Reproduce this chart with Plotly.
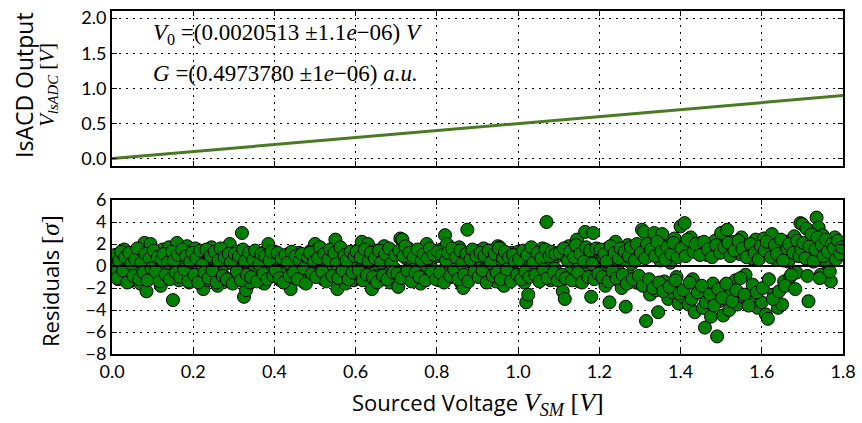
import plotly.graph_objects as go
from plotly.subplots import make_subplots

# ---- data ----
# top panel: IsADC output vs sourced voltage
vsm_top = [0.0, 0.2, 0.4, 0.6, 0.8, 1.0, 1.2, 1.4, 1.6, 1.8]
visadc = [0.002, 0.102, 0.201, 0.301, 0.400, 0.499, 0.599, 0.698, 0.798, 0.897]

# residuals panel, first sweep
res_x = [
    0.000, 0.005, 0.010, 0.015, 0.020, 0.025, 0.030, 0.035, 0.040, 0.045, 0.050, 0.055, 0.060, 0.065, 0.070, 0.075, 0.080, 0.085, 0.090, 0.095,
    0.100, 0.105, 0.110, 0.115, 0.120, 0.125, 0.130, 0.135, 0.140, 0.145, 0.150, 0.155, 0.160, 0.165, 0.170, 0.175, 0.180, 0.185, 0.190, 0.195,
    0.200, 0.205, 0.210, 0.215, 0.220, 0.225, 0.230, 0.235, 0.240, 0.245, 0.250, 0.255, 0.260, 0.265, 0.270, 0.275, 0.280, 0.285, 0.290, 0.295,
    0.300, 0.305, 0.310, 0.315, 0.320, 0.325, 0.330, 0.335, 0.340, 0.345, 0.350, 0.355, 0.360, 0.365, 0.370, 0.375, 0.380, 0.385, 0.390, 0.395,
    0.400, 0.405, 0.410, 0.415, 0.420, 0.425, 0.430, 0.435, 0.440, 0.445, 0.450, 0.455, 0.460, 0.465, 0.470, 0.475, 0.480, 0.485, 0.490, 0.495,
    0.500, 0.505, 0.510, 0.515, 0.520, 0.525, 0.530, 0.535, 0.540, 0.545, 0.550, 0.555, 0.560, 0.565, 0.570, 0.575, 0.580, 0.585, 0.590, 0.595,
    0.600, 0.605, 0.610, 0.615, 0.620, 0.625, 0.630, 0.635, 0.640, 0.645, 0.650, 0.655, 0.660, 0.665, 0.670, 0.675, 0.680, 0.685, 0.690, 0.695,
    0.700, 0.705, 0.710, 0.715, 0.720, 0.725, 0.730, 0.735, 0.740, 0.745, 0.750, 0.755, 0.760, 0.765, 0.770, 0.775, 0.780, 0.785, 0.790, 0.795,
    0.800, 0.805, 0.810, 0.815, 0.820, 0.825, 0.830, 0.835, 0.840, 0.845, 0.850, 0.855, 0.860, 0.865, 0.870, 0.875, 0.880, 0.885, 0.890, 0.895,
    0.900, 0.905, 0.910, 0.915, 0.920, 0.925, 0.930, 0.935, 0.940, 0.945, 0.950, 0.955, 0.960, 0.965, 0.970, 0.975, 0.980, 0.985, 0.990, 0.995,
    1.000, 1.005, 1.010, 1.015, 1.020, 1.025, 1.030, 1.035, 1.040, 1.045, 1.050, 1.055, 1.060, 1.065, 1.070, 1.075, 1.080, 1.085, 1.090, 1.095,
    1.100, 1.105, 1.110, 1.115, 1.120, 1.125, 1.130, 1.135, 1.140, 1.145, 1.150, 1.155, 1.160, 1.165, 1.170, 1.175, 1.180, 1.185, 1.190, 1.195,
    1.200, 1.205, 1.210, 1.215, 1.220, 1.225, 1.230, 1.235, 1.240, 1.245, 1.250, 1.255, 1.260, 1.265, 1.270, 1.275, 1.280, 1.285, 1.290, 1.295,
    1.300, 1.305, 1.310, 1.315, 1.320, 1.325, 1.330, 1.335, 1.340, 1.345, 1.350, 1.355, 1.360, 1.365, 1.370, 1.375, 1.380, 1.385, 1.390, 1.395,
    1.400, 1.405, 1.410, 1.415, 1.420, 1.425, 1.430, 1.435, 1.440, 1.445, 1.450, 1.455, 1.460, 1.465, 1.470, 1.475, 1.480, 1.485, 1.490, 1.495,
    1.500, 1.505, 1.510, 1.515, 1.520, 1.525, 1.530, 1.535, 1.540, 1.545, 1.550, 1.555, 1.560, 1.565, 1.570, 1.575, 1.580, 1.585, 1.590, 1.595,
    1.600, 1.605, 1.610, 1.615, 1.620, 1.625, 1.630, 1.635, 1.640, 1.645, 1.650, 1.655, 1.660, 1.665, 1.670, 1.675, 1.680, 1.685, 1.690, 1.695,
    1.700, 1.705, 1.710, 1.715, 1.720, 1.725, 1.730, 1.735, 1.740, 1.745, 1.750, 1.755, 1.760, 1.765, 1.770, 1.775, 1.780, 1.785, 1.790, 1.795,
    1.800,
]
res_sigma = [
    0.4, -0.6, 0.9, -1.2, 0.2, 1.1, 1.5, -0.8, 0.6, -1.4, 0.3, 1.3, -0.5, 0.8, -1.6, 0.9, 2.1, -2.3, 0.5, 2.0,
    -0.7, 1.2, -1.1, 0.4, -1.8, 1.5, 0.1, -0.9, 1.7, -0.3, -3.1, 0.9, 2.1, -1.3, 0.6, 1.0, -0.4, 1.8, -1.5, 0.7,
    0.3, 1.6, -1.0, 0.8, -0.5, -2.1, 1.2, -1.3, 0.5, 1.7, -0.2, 1.1, -1.8, 0.6, 1.4, -0.9, 0.2, -1.4, 2.0, 0.9,
    -1.2, 1.3, 0.4, -0.7, 3.0, -2.8, -2.2, 1.0, -1.5, 0.6, -0.4, 1.2, 0.2, -1.1, 0.8, -1.6, 1.4, 2.0, -0.6, 0.5,
    1.3, -0.8, 0.5, -1.3, 0.9, 0.1, -0.5, 1.1, -2.1, 0.7, -1.0, 0.4, 1.2, -0.3, -1.4, 0.8, 0.2, -0.9, 1.4, 0.6,
    2.0, 1.5, -0.6, 0.9, -1.2, 1.3, 0.3, -0.8, 1.0, -0.2, 2.4, -2.1, 0.7, -1.0, 0.4, -1.6, 1.2, -0.4, 0.8, -1.3,
    0.6, -1.1, 1.6, 2.2, 0.3, -0.7, 2.0, 1.1, -2.1, -0.4, 1.4, 0.2, -1.3, 0.9, 1.8, -0.6, 0.5, -1.5, 1.0, -0.2,
    1.2, -1.9, 2.5, 2.4, -0.5, 0.7, 1.6, -1.2, 0.3, 1.1, -0.8, 0.6, -1.6, 1.4, 0.1, 2.0, -1.0, 0.9, -0.3, 1.3,
    0.9, -1.3, 1.5, -0.4, 2.8, 2.0, 0.6, -1.0, 1.2, -0.6, 0.3, 1.7, -1.6, -2.0, 1.0, 3.3, 0.4, -0.9, 1.3, -0.2,
    1.1, -0.7, 0.5, 1.6, -1.2, 0.2, 1.4, -0.5, 0.8, -1.4, 1.8, 1.7, -0.3, -1.8, 0.9, 0.4, -1.0, 1.2, -0.6, 0.7,
    1.3, -0.8, 0.6, -1.5, -3.3, -2.6, 1.0, -0.4, 1.4, 0.2, -1.1, 0.8, 1.6, -0.6, 4.0, 0.5, -1.3, 1.1, -0.2, 0.9,
    -0.9, 1.3, -2.3, -3.0, 0.7, 1.8, -0.5, 1.1, 0.3, 2.4, -1.4, 0.9, 1.5, 3.1, -0.7, 0.5, -2.8, 3.0, 1.0, -0.3,
    1.2, -0.6, 0.8, -1.8, 1.6, -3.3, 0.4, -1.2, 2.2, -0.3, 1.0, -2.0, 0.6, -3.7, 1.9, -0.9, 0.2, 1.3, -1.5, 0.7,
    -1.6, 3.3, 3.1, -5.0, 0.9, -2.6, 1.4, 3.0, -2.2, -4.2, 0.5, 2.9, -1.4, 1.8, -3.0, 0.3, -2.4, 2.5, -1.0, -3.4,
    3.6, -2.8, 3.9, 1.8, -3.5, 2.6, -1.2, -4.2, 1.4, -2.0, 2.1, -3.8, -5.6, 1.0, -2.9, -4.6, -1.6, 2.3, -6.4, -3.2,
    3.0, -4.5, 1.6, 3.3, -4.0, -2.4, 2.2, -1.3, -3.5, 1.1, 2.6, -2.8, -0.8, 1.9, -3.0, 0.7, -1.9, 2.4, -3.8, 1.4,
    -3.3, 2.5, -4.4, -4.8, 1.3, 2.9, -2.6, 0.6, -3.8, 1.7, -3.5, -1.4, 2.2, 0.4, -1.0, 1.5, 2.7, -0.6, 0.9, 3.9,
    3.8, 1.2, 3.4, -3.2, 0.6, 2.3, 1.6, 4.4, 3.5, -0.8, 2.8, 1.0, 0.3, 2.2, -1.4, 1.8, 2.6, 0.8, 1.4, 2.0,
    1.2,
]

# residuals panel, interleaved second sweep
res_x_b = [
    0.0025, 0.0075, 0.0125, 0.0175, 0.0225, 0.0275, 0.0325, 0.0375, 0.0425, 0.0475, 0.0525, 0.0575, 0.0625, 0.0675, 0.0725, 0.0775, 0.0825, 0.0875, 0.0925, 0.0975,
    0.1025, 0.1075, 0.1125, 0.1175, 0.1225, 0.1275, 0.1325, 0.1375, 0.1425, 0.1475, 0.1525, 0.1575, 0.1625, 0.1675, 0.1725, 0.1775, 0.1825, 0.1875, 0.1925, 0.1975,
    0.2025, 0.2075, 0.2125, 0.2175, 0.2225, 0.2275, 0.2325, 0.2375, 0.2425, 0.2475, 0.2525, 0.2575, 0.2625, 0.2675, 0.2725, 0.2775, 0.2825, 0.2875, 0.2925, 0.2975,
    0.3025, 0.3075, 0.3125, 0.3175, 0.3225, 0.3275, 0.3325, 0.3375, 0.3425, 0.3475, 0.3525, 0.3575, 0.3625, 0.3675, 0.3725, 0.3775, 0.3825, 0.3875, 0.3925, 0.3975,
    0.4025, 0.4075, 0.4125, 0.4175, 0.4225, 0.4275, 0.4325, 0.4375, 0.4425, 0.4475, 0.4525, 0.4575, 0.4625, 0.4675, 0.4725, 0.4775, 0.4825, 0.4875, 0.4925, 0.4975,
    0.5025, 0.5075, 0.5125, 0.5175, 0.5225, 0.5275, 0.5325, 0.5375, 0.5425, 0.5475, 0.5525, 0.5575, 0.5625, 0.5675, 0.5725, 0.5775, 0.5825, 0.5875, 0.5925, 0.5975,
    0.6025, 0.6075, 0.6125, 0.6175, 0.6225, 0.6275, 0.6325, 0.6375, 0.6425, 0.6475, 0.6525, 0.6575, 0.6625, 0.6675, 0.6725, 0.6775, 0.6825, 0.6875, 0.6925, 0.6975,
    0.7025, 0.7075, 0.7125, 0.7175, 0.7225, 0.7275, 0.7325, 0.7375, 0.7425, 0.7475, 0.7525, 0.7575, 0.7625, 0.7675, 0.7725, 0.7775, 0.7825, 0.7875, 0.7925, 0.7975,
    0.8025, 0.8075, 0.8125, 0.8175, 0.8225, 0.8275, 0.8325, 0.8375, 0.8425, 0.8475, 0.8525, 0.8575, 0.8625, 0.8675, 0.8725, 0.8775, 0.8825, 0.8875, 0.8925, 0.8975,
    0.9025, 0.9075, 0.9125, 0.9175, 0.9225, 0.9275, 0.9325, 0.9375, 0.9425, 0.9475, 0.9525, 0.9575, 0.9625, 0.9675, 0.9725, 0.9775, 0.9825, 0.9875, 0.9925, 0.9975,
    1.0025, 1.0075, 1.0125, 1.0175, 1.0225, 1.0275, 1.0325, 1.0375, 1.0425, 1.0475, 1.0525, 1.0575, 1.0625, 1.0675, 1.0725, 1.0775, 1.0825, 1.0875, 1.0925, 1.0975,
    1.1025, 1.1075, 1.1125, 1.1175, 1.1225, 1.1275, 1.1325, 1.1375, 1.1425, 1.1475, 1.1525, 1.1575, 1.1625, 1.1675, 1.1725, 1.1775, 1.1825, 1.1875, 1.1925, 1.1975,
    1.2025, 1.2075, 1.2125, 1.2175, 1.2225, 1.2275, 1.2325, 1.2375, 1.2425, 1.2475, 1.2525, 1.2575, 1.2625, 1.2675, 1.2725, 1.2775, 1.2825, 1.2875, 1.2925, 1.2975,
    1.3025, 1.3075, 1.3125, 1.3175, 1.3225, 1.3275, 1.3325, 1.3375, 1.3425, 1.3475, 1.3525, 1.3575, 1.3625, 1.3675, 1.3725, 1.3775, 1.3825, 1.3875, 1.3925, 1.3975,
    1.4025, 1.4075, 1.4125, 1.4175, 1.4225, 1.4275, 1.4325, 1.4375, 1.4425, 1.4475, 1.4525, 1.4575, 1.4625, 1.4675, 1.4725, 1.4775, 1.4825, 1.4875, 1.4925, 1.4975,
    1.5025, 1.5075, 1.5125, 1.5175, 1.5225, 1.5275, 1.5325, 1.5375, 1.5425, 1.5475, 1.5525, 1.5575, 1.5625, 1.5675, 1.5725, 1.5775, 1.5825, 1.5875, 1.5925, 1.5975,
    1.6025, 1.6075, 1.6125, 1.6175, 1.6225, 1.6275, 1.6325, 1.6375, 1.6425, 1.6475, 1.6525, 1.6575, 1.6625, 1.6675, 1.6725, 1.6775, 1.6825, 1.6875, 1.6925, 1.6975,
    1.7025, 1.7075, 1.7125, 1.7175, 1.7225, 1.7275, 1.7325, 1.7375, 1.7425, 1.7475, 1.7525, 1.7575, 1.7625, 1.7675, 1.7725, 1.7775, 1.7825, 1.7875, 1.7925, 1.7975,
]
res_sigma_b = [
    -0.3, 1.0, -1.1, 0.5, 1.3, -0.4, 0.8, -1.5, 1.2, 0.2, -0.9, 0.6, 1.6, -1.2, 0.3, -0.6, 1.1, -1.3, 0.7, -0.2,
    1.4, -0.5, 0.8, -1.4, 0.6, 1.1, -0.8, 0.3, -1.2, 1.3, 0.5, -0.6, 1.0, -1.0, 1.5, -0.3, 0.9, -1.4, 0.4, 1.2,
    -0.8, 0.7, -1.5, 1.4, 0.1, -0.6, 1.5, -1.1, 0.9, -0.4, 1.3, -1.5, 0.5, 1.6, -0.9, 0.8, -1.2, 1.1, 0.3, -1.6,
    1.1, -0.5, 0.9, -1.3, 1.5, 0.4, -0.8, 1.2, -1.0, 0.6, 1.4, -1.4, 0.2, 1.1, -0.7, 0.9, -1.2, 0.5, 1.3, -0.9,
    -0.4, 1.2, -1.1, 0.7, -1.5, 1.0, 0.3, -0.9, 1.3, -0.6, 0.9, -1.2, 0.5, 1.1, -0.2, -1.6, 0.8, 1.2, -0.7, 0.4,
    -1.0, 0.7, 1.7, -0.5, 1.1, -1.4, 0.6, 1.5, -0.9, 1.2, 0.2, -1.1, 1.7, -0.4, 1.0, 0.5, -1.2, 1.3, -0.6, 0.9,
    1.3, -0.4, 0.8, -1.3, 1.5, -0.8, 0.4, 1.2, -1.0, 0.7, -1.5, 1.4, 0.3, -0.9, 1.1, -1.2, 1.6, 0.2, -0.6, 1.0,
    -0.7, 1.4, -1.1, 0.9, 1.8, -0.4, 1.2, -1.4, 0.8, -0.6, 1.5, -1.0, 0.5, 1.1, -1.3, 0.7, 1.6, -0.5, 1.0, -1.2,
    1.3, -0.6, 1.0, -1.5, 0.5, 1.2, -0.9, 1.6, -0.3, 0.8, -1.2, 1.4, 0.2, -0.8, 1.1, -1.4, 0.6, 1.5, -0.5, 0.9,
    -1.0, 1.2, -0.4, 0.9, -1.5, 1.4, 0.3, -0.9, 1.1, -0.6, 1.6, -1.2, 0.7, 1.3, -0.3, 0.8, -1.4, 1.0, 0.4, -0.8,
    0.6, -1.2, 1.4, -0.5, 1.0, -1.0, 1.7, 0.3, -0.8, 1.2, -1.4, 0.7, -0.3, 1.5, -1.1, 0.9, 1.3, -0.6, 1.1, -1.3,
    1.2, -0.8, 1.6, -1.1, 0.5, 1.3, -1.3, 0.8, 1.9, -0.6, 1.1, -1.5, 0.4, 1.7, -1.0, 1.4, 0.2, -1.2, 1.6, -0.7,
    1.5, -1.0, 1.1, 0.4, -1.4, 1.8, -0.5, 1.2, -1.1, 0.7, 1.6, -0.8, 1.3, -1.6, 0.9, 1.7, -1.2, 0.5, 2.0, -0.9,
    1.2, -1.8, 0.7, 2.0, -1.2, 1.5, -2.0, 0.9, 2.2, -1.5, 1.3, -2.3, 0.6, 1.7, -1.9, 1.1, 2.1, -1.3, 0.8, -2.5,
    1.6, -2.2, 0.9, 2.4, -1.5, -3.0, 1.3, 2.0, -2.4, 1.0, -1.8, 2.2, -3.3, 1.5, -2.6, 0.8, -3.6, 1.9, -2.1, 1.2,
    -2.9, 1.7, -1.6, 2.1, 0.9, -3.2, 1.4, -2.2, 2.3, -1.1, 1.6, -2.6, 0.8, -3.6, 2.0, -1.7, 1.2, -2.4, 0.6, 1.8,
    -2.0, 1.4, 2.2, -1.2, 0.8, -3.0, 1.9, 1.1, -2.3, 2.4, 0.5, -1.8, 1.6, 2.0, -0.8, 1.2, -2.1, 2.3, 0.9, 1.5,
    2.1, 0.7, -0.9, 1.8, 2.9, 0.4, 1.5, 2.6, -1.1, 1.9, 0.9, 2.4, 1.3, -0.5, 2.0, 1.6, 0.6, 2.3, 1.1, 1.7,
]

fit_x = [0.0, 1.8]
fit_res = [0.0, 0.0]

x_ticks = [0.0, 0.2, 0.4, 0.6, 0.8, 1.0, 1.2, 1.4, 1.6, 1.8]
top_yticks = [0.0, 0.5, 1.0, 1.5, 2.0]
res_yticks = [-8, -6, -4, -2, 0, 2, 4, 6]

# ---- figure ----
W, H = 862, 423
ML, MR, MT, MB = 112, 19, 11, 69
PW = W - ML - MR
PH = H - MT - MB

fig = make_subplots(rows=2, cols=1, shared_xaxes=False)

marker_style = dict(size=13, color="#008000", line=dict(color="black", width=1))

fig.add_trace(go.Scatter(x=vsm_top, y=visadc, mode="lines",
                         line=dict(color="#4a7a22", width=3), showlegend=False),
              row=1, col=1)
fig.add_trace(go.Scatter(x=res_x, y=res_sigma, mode="markers",
                         marker=marker_style, showlegend=False),
              row=2, col=1)
fig.add_trace(go.Scatter(x=res_x_b, y=res_sigma_b, mode="markers",
                         marker=marker_style, showlegend=False),
              row=2, col=1)
fig.add_trace(go.Scatter(x=fit_x, y=fit_res, mode="lines",
                         line=dict(color="black", width=2), showlegend=False),
              row=2, col=1)

sans = "Lato, 'Open Sans', sans-serif"
title_sans = "'Open Sans', Lato, sans-serif"
serif = "'Liberation Serif', 'DejaVu Serif', serif"

tick_font = dict(family=sans, size=18, color="black")
axis_common = dict(showline=True, linewidth=2, linecolor="black", mirror="allticks",
                   ticks="inside", ticklen=5, tickwidth=1, tickcolor="black",
                   showgrid=True, gridcolor="black", gridwidth=1, griddash="2px,5px",
                   zeroline=False, tickfont=tick_font, automargin=False)


def px_x(px):
    return (px - ML) / PW


def px_y(py):
    return (H - MB - py) / PH


fig.update_layout(
    width=W, height=H, margin=dict(l=ML, r=MR, t=MT, b=MB, autoexpand=False),
    paper_bgcolor="white", plot_bgcolor="white",
    xaxis=dict(domain=[0, 1], range=[0, 1.8], tickvals=x_ticks,
               showticklabels=False, **axis_common),
    yaxis=dict(domain=[px_y(165.7), 1.0], range=[-0.1, 2.1],
               tickvals=top_yticks, tickformat=".1f", **axis_common),
    xaxis2=dict(domain=[0, 1], range=[0, 1.8], tickvals=x_ticks,
                tickformat=".1f", **axis_common),
    yaxis2=dict(domain=[0, px_y(200)], range=[-8, 6],
                tickvals=res_yticks, **axis_common),
)

annots = [
    dict(x=px_x(24), y=px_y(85), text="IsACD Output", textangle=-90,
         font=dict(family=title_sans, size=23, color="black")),
    dict(x=px_x(48), y=px_y(85),
         text="<i>V</i><sub><i>lsADC</i></sub> [<i>V</i>]", textangle=-90,
         font=dict(family=serif, size=21, color="black")),
    dict(x=px_x(50), y=px_y(281),
         text="Residuals <span style='font-family:Liberation Serif;font-size:25px'>[<i>σ</i>]</span>",
         textangle=-90, font=dict(family=title_sans, size=22, color="black")),
    dict(x=0.5, y=px_y(403),
         text="Sourced Voltage <span style='font-family:Liberation Serif;font-size:26px'><i>V</i><sub><i>SM</i></sub> [<i>V</i>]</span>",
         font=dict(family=title_sans, size=22, color="black")),
    dict(x=px_x(151), y=px_y(34), xanchor="left",
         text="<i>V</i><sub>0</sub> =(0.0020513 ±1.1<i>e</i>−06) <i>V</i>",
         font=dict(family=serif, size=23, color="black")),
    dict(x=px_x(151), y=px_y(73), xanchor="left",
         text="<i>G</i> =(0.4973780 ±1<i>e</i>−06) <i>a.u.</i>",
         font=dict(family=serif, size=23, color="black")),
]
for a in annots:
    a.setdefault("xanchor", "center")
    a.update(xref="paper", yref="paper", yanchor="middle", showarrow=False)
fig.update_layout(annotations=annots)

fig.write_html("out.html")
